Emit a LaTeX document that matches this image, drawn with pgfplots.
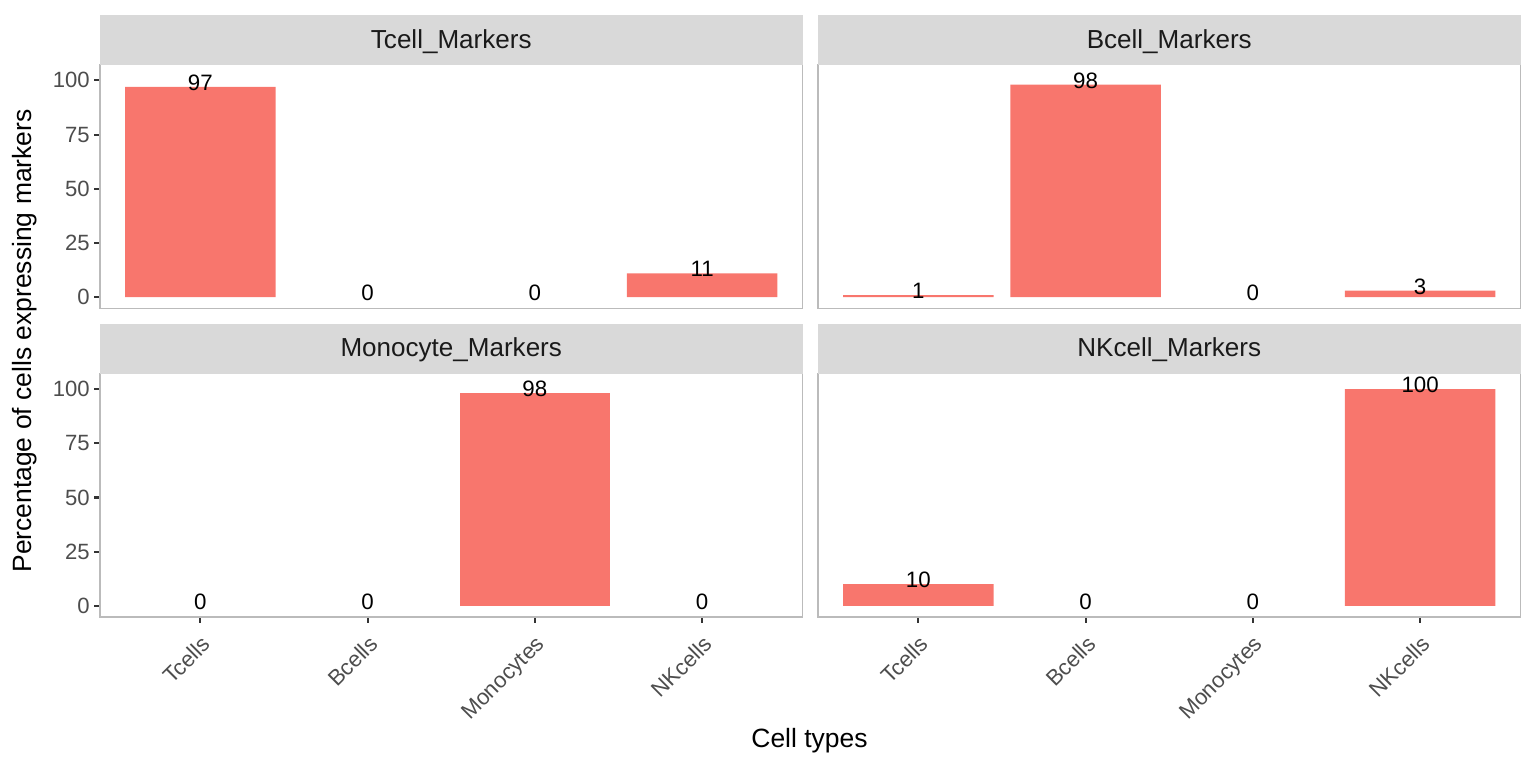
\documentclass[border=0pt]{standalone}
\usepackage{fontspec}
\setmainfont{Liberation Sans}
\usepackage{pgfplots}
\pgfplotsset{compat=1.18}
\definecolor{barred}{HTML}{F8766D}
\definecolor{stripgray}{HTML}{D9D9D9}
\definecolor{bordergray}{HTML}{BBBBBB}
\definecolor{tickgray}{HTML}{333333}
\definecolor{labgray}{HTML}{4D4D4D}
\definecolor{striptext}{HTML}{1A1A1A}
\newcommand\axfont{\fontsize{10.6}{12.5}\selectfont}
\newcommand\stripfont{\fontsize{12.5}{15}\selectfont}
\newcommand\titfont{\fontsize{12.7}{15}\selectfont}
\newcommand\lblfont{\fontsize{10.7}{13}\selectfont}
\pgfplotsset{
  panel/.style={
    width=337.2pt, height=116.8pt, scale only axis,
    ybar, bar width=0.9, bar shift=0pt,
    xmin=0.4, xmax=4.6, ymin=-5.1, ymax=107.1,
    axis line style={bordergray, line width=0.5pt},
    tick style={tickgray, line width=1pt},
    tick align=outside, major tick length=2.75pt,
    xtick pos=bottom, ytick pos=left,
    clip=false,
    /pgf/number format/assume math mode=true,
    tick label style={font=\axfont, text=labgray},
    yticklabel style={inner sep=2pt},
    xticklabel style={rotate=45, anchor=north east, inner sep=3.8pt},
  },
  yleft/.style={ytick={0,25,50,75,100}},
  yright/.style={ytick=\empty},
  xtop/.style={xtick=\empty},
  xbottom/.style={xtick={1,2,3,4}, xticklabels={Tcells,Bcells,Monocytes,NKcells}},
  bars/.style={fill=barred, draw=none},
  labels/.style={fill=none, draw=none, nodes near coords,
    every node near coord/.append style={font=\lblfont, text=black, anchor=center, yshift=2.08pt}},
}
\newcommand\strip[1]{%
  \fill[stripgray] (rel axis cs:0,1) rectangle ([yshift=23.8pt]rel axis cs:1,1);
  \node[font=\stripfont, text=striptext] at ([yshift=11.4pt]rel axis cs:0.5,1) {#1};
}
\begin{document}
\begin{tikzpicture}
\useasboundingbox (0,0) rectangle (737.28pt,368.64pt);
% top-left
\begin{axis}[panel, yleft, xtop, at={(48pt,220.66pt)}, anchor=south west]
  \addplot[bars] coordinates {(1,97) (4,11)};
  \addplot[labels] coordinates {(1,97) (2,0) (3,0) (4,11)};
  \strip{Tcell\_Markers}
\end{axis}
% top-right
\begin{axis}[panel, yright, xtop, at={(392.64pt,220.66pt)}, anchor=south west]
  \addplot[bars] coordinates {(1,1) (2,98) (4,3)};
  \addplot[labels] coordinates {(1,1) (2,98) (3,0) (4,3)};
  \strip{Bcell\_Markers}
\end{axis}
% bottom-left
\begin{axis}[panel, yleft, xbottom, at={(48pt,72.48pt)}, anchor=south west]
  \addplot[bars] coordinates {(3,98)};
  \addplot[labels] coordinates {(1,0) (2,0) (3,98) (4,0)};
  \strip{Monocyte\_Markers}
\end{axis}
% bottom-right
\begin{axis}[panel, yright, xbottom, at={(392.64pt,72.48pt)}, anchor=south west]
  \addplot[bars] coordinates {(1,10) (4,100)};
  \addplot[labels] coordinates {(1,10) (2,0) (3,0) (4,100)};
  \strip{NKcell\_Markers}
\end{axis}
\node[rotate=90, font=\titfont, text=black] at (12pt,204.96pt) {Percentage of cells expressing markers};
\node[font=\titfont, text=black] at (388.56pt,13pt) {Cell types};
\end{tikzpicture}
\end{document}
